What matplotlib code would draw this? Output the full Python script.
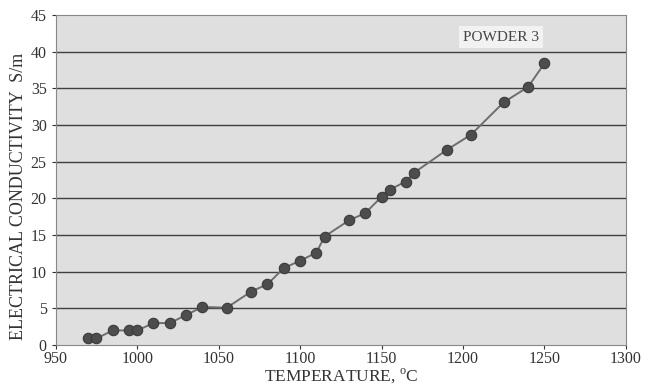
import matplotlib
matplotlib.use("Agg")
import matplotlib.pyplot as plt

plt.rcParams['font.family'] = ['Liberation Serif', 'DejaVu Serif']
plt.rcParams['mathtext.fontset'] = 'custom'
plt.rcParams['mathtext.rm'] = 'Liberation Serif'

temperatura = [970, 975, 985, 995, 1000, 1010, 1020, 1030, 1040, 1055,
               1070, 1080, 1090, 1100, 1110, 1115, 1130, 1140, 1150, 1155,
               1165, 1170, 1190, 1205, 1225, 1240, 1250]
conductividad = [0.9, 0.9, 2.0, 2.0, 2.0, 3.0, 3.0, 4.1, 5.2, 5.1,
                 7.3, 8.3, 10.5, 11.5, 12.6, 14.8, 17.0, 18.0, 20.2, 21.2,
                 22.3, 23.5, 26.6, 28.7, 33.1, 35.2, 38.4]

x_ticks = [950, 1000, 1050, 1100, 1150, 1200, 1250, 1300]
y_ticks = [0, 5, 10, 15, 20, 25, 30, 35, 40, 45]

fig = plt.figure(figsize=(6.56, 3.86), dpi=100)
ax = fig.add_axes([0.085, 0.106, 0.869, 0.855])
ax.set_facecolor('#dfdfdf')

for y in y_ticks[1:-1]:
    ax.axhline(y, color='#404040', lw=1.0, zorder=1)

ax.plot(temperatura, conductividad, color='#6e6e6e', lw=1.4, zorder=2)
ax.plot(temperatura, conductividad, 'o', ms=7.5, mfc='#4d4d4d', mec='#3a3a3a',
        mew=0.8, zorder=3)

ax.set_xlim(950, 1300)
ax.set_ylim(0, 45)
ax.set_xticks(x_ticks)
ax.set_yticks(y_ticks)
ax.tick_params(labelsize=11.5, colors='#333333', length=3, width=0.8)
ax.tick_params(axis='x', pad=1.5)
for s in ax.spines.values():
    s.set_color('#888888')
    s.set_linewidth(0.8)

ax.text(1200, 42.0, 'POWDER 3', fontsize=11, color='#444444', va='center',
        bbox=dict(facecolor='#f2f2f2', edgecolor='none', pad=3))

ax.set_xlabel('TEMPERATURE, $^{\\rm o}$C', fontsize=12.5, color='#333333', labelpad=0)
ax.set_ylabel('ELECTRICAL CONDUCTIVITY  S/m', fontsize=13, color='#333333')
ax.yaxis.set_label_coords(-0.05, 0.45)

plt.savefig('out.png', dpi=100)
